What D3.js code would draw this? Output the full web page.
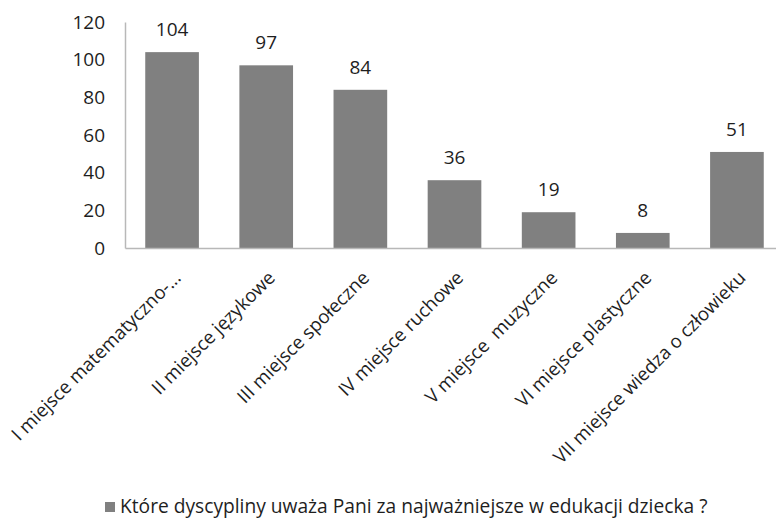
<!DOCTYPE html>
<html>
<head>
<meta charset="utf-8">
<script src="https://cdn.jsdelivr.net/npm/d3@7"></script>
<style>
  body { margin: 0; background: #fff; }
  svg { display: block; font-family: "Open Sans", sans-serif; }
  .cat-label { white-space: pre; }
</style>
</head>
<body>
<svg id="chart" width="776" height="519"></svg>
<script>
const categories = [
  "I miejsce matematyczno-...",
  "II miejsce językowe",
  "III miejsce społeczne",
  "IV miejsce ruchowe",
  "V miejsce  muzyczne",
  "VI miejsce plastyczne",
  "VII miejsce wiedza o człowieku"
];
const values = [104, 97, 84, 36, 19, 8, 51];
const yTicks = [0, 20, 40, 60, 80, 100, 120];
const seriesName = "Które dyscypliny uważa Pani za najważniejsze w edukacji dziecka ?";

const svg = d3.select("#chart");
const plotLeft = 125, plotRight = 784, plotTop = 22, plotBottom = 248;
const textColor = "#1e1e1e";

const x = d3.scaleBand().domain(categories).range([plotLeft, plotRight])
  .paddingInner(0.43).paddingOuter(0.215);
const y = d3.scaleLinear().domain([0, 120]).range([plotBottom, plotTop]);

// value axis
const yAxis = svg.append("g").attr("transform", `translate(${plotLeft},0)`)
  .call(d3.axisLeft(y).tickValues(yTicks).tickSize(0).tickPadding(20));
yAxis.select(".domain").attr("stroke", "#b8b8b8").attr("stroke-width", 1.5);
yAxis.selectAll("text").attr("font-size", 19).attr("fill", textColor)
  .attr("font-family", "Open Sans, sans-serif");

// bars
svg.append("g").selectAll("rect").data(values).join("rect")
  .attr("x", (d, i) => x(categories[i]))
  .attr("y", d => y(d))
  .attr("width", x.bandwidth())
  .attr("height", d => y(0) - y(d))
  .attr("fill", "#808080");

// category axis
const xAxis = svg.append("g").attr("transform", `translate(0,${plotBottom})`)
  .call(d3.axisBottom(x).tickSize(0).tickFormat(""));
xAxis.select(".domain").attr("stroke", "#b8b8b8").attr("stroke-width", 1.5);

// value labels
svg.append("g").selectAll("text").data(values).join("text")
  .attr("x", (d, i) => x(categories[i]) + x.bandwidth() / 2)
  .attr("y", d => y(d) - 16)
  .attr("text-anchor", "middle")
  .attr("font-size", 19)
  .attr("fill", textColor)
  .text(d => d);

// rotated category labels, ending just under each bar
svg.append("g").selectAll("text").data(categories).join("text")
  .attr("class", "cat-label")
  .attr("transform", d => `translate(${x(d) + x.bandwidth() / 2 + 10},${plotBottom + 31}) rotate(-45)`)
  .attr("text-anchor", "end")
  .attr("font-size", 18.7)
  .attr("fill", textColor)
  .text(d => d);

// legend
const legend = svg.append("g").attr("transform", "translate(105,513)");
legend.append("rect").attr("x", 0).attr("y", -11).attr("width", 10).attr("height", 10)
  .attr("fill", "#808080");
legend.append("text").attr("x", 15).attr("y", 0)
  .attr("font-size", 19.2).attr("fill", textColor).text(seriesName);
</script>
</body>
</html>
